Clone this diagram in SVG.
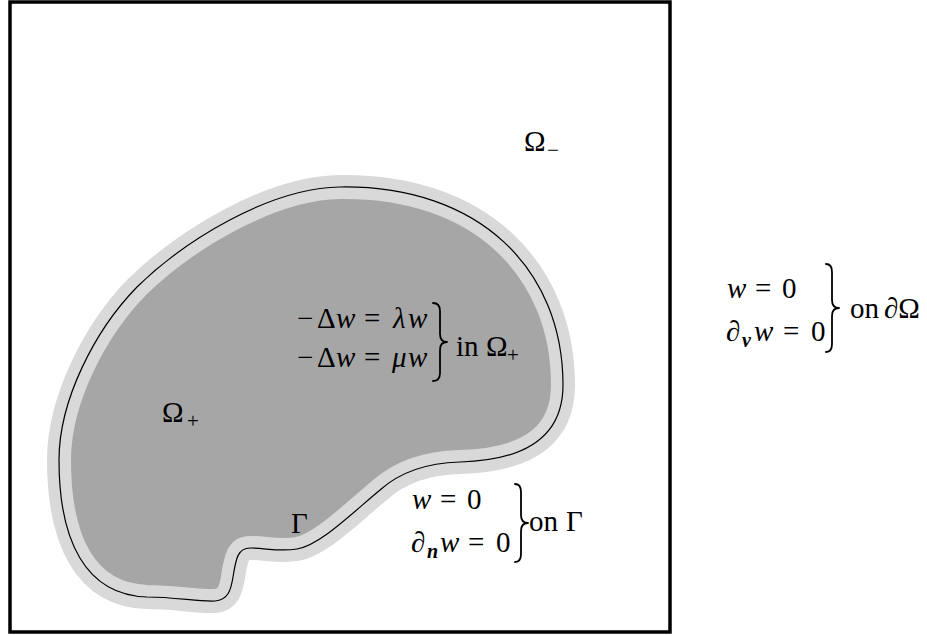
<svg xmlns="http://www.w3.org/2000/svg" width="927" height="636" viewBox="0 0 927 636">
<defs>
<style>
text{font-family:"Liberation Serif","Times New Roman",serif;font-size:29px;fill:#000}
.i{font-style:italic}
.s{font-size:21px}
.sb{font-size:20px;font-style:italic;font-weight:bold}
.brace{fill:none;stroke:#000;stroke-width:1.8;stroke-linecap:round;stroke-linejoin:round}
</style>
<path id="gamma" d="M340,187 C270,188 185,240 137,287 C95,330 59,400 59,460 C59,540 85,595 147,597 C175,597 200,602 215,601 C228,600 231,590 233,577 C236,558 238,548 250,548 C265,548 280,552 297,549 C320,545 350,515 380,490 C400,472 425,463 460,462 C535,460 563,430 563,385 C563,270 480,185 340,187 Z"/>
</defs>
<rect id="frame" x="10" y="2" width="660" height="630" fill="#fff" stroke="#000" stroke-width="3.5"/>
<g id="omega-plus-region">
<use href="#gamma" fill="#a6a6a6" stroke="#d9d9d9" stroke-width="24"/>
<use href="#gamma" fill="none" stroke="#000" stroke-width="1.2"/>
</g>
<g id="label-omega-minus">
<text x="524" y="151">Ω</text><text class="s" x="547" y="157">−</text>
</g>
<g id="label-omega-plus">
<text x="162" y="422">Ω</text><text class="s" x="187" y="428">+</text>
</g>
<g id="label-gamma">
<text x="291" y="533">Γ</text>
</g>
<g id="eq-interior">
<text x="297" y="328">−</text><text x="317" y="328">Δ</text><text class="i" x="336" y="328">w</text><text x="364" y="328">=</text><text class="i" x="393" y="328">λ</text><text class="i" x="408" y="328">w</text>
<text x="297" y="367">−</text><text x="317" y="367">Δ</text><text class="i" x="336" y="367">w</text><text x="364" y="367">=</text><text class="i" x="392" y="367">μ</text><text class="i" x="408" y="367">w</text>
<path class="brace" d="M433,303 Q440,303 440,311 L440,334 Q440,342 447,342 Q440,342 440,350 L440,373 Q440,381 433,381"/>
<text x="456" y="356">in</text><text x="486" y="356">Ω</text><text class="s" x="507" y="362">+</text>
</g>
<g id="eq-gamma">
<text class="i" x="412" y="509">w</text><text x="440" y="509">=</text><text x="467" y="509">0</text>
<text x="411" y="552">∂</text><text class="sb" x="427" y="558">n</text><text class="i" x="440" y="552">w</text><text x="468" y="552">=</text><text x="496" y="552">0</text>
<path class="brace" d="M515,484 Q521,484 521,492 L521,515 Q521,523 528,523 Q521,523 521,531 L521,554 Q521,562 515,562"/>
<text x="529" y="531">on</text><text x="566" y="531">Γ</text>
</g>
<g id="eq-boundary">
<text class="i" x="727" y="298">w</text><text x="755" y="298">=</text><text x="782" y="298">0</text>
<text x="726" y="341">∂</text><text class="sb" x="742" y="347">ν</text><text class="i" x="754" y="341">w</text><text x="783" y="341">=</text><text x="811" y="341">0</text>
<path class="brace" d="M826,264 Q832,264 832,272 L832,300 Q832,308 839,308 Q832,308 832,316 L832,344 Q832,352 826,352"/>
<text x="850" y="318">on</text><text x="884" y="318">∂Ω</text>
</g>
</svg>
